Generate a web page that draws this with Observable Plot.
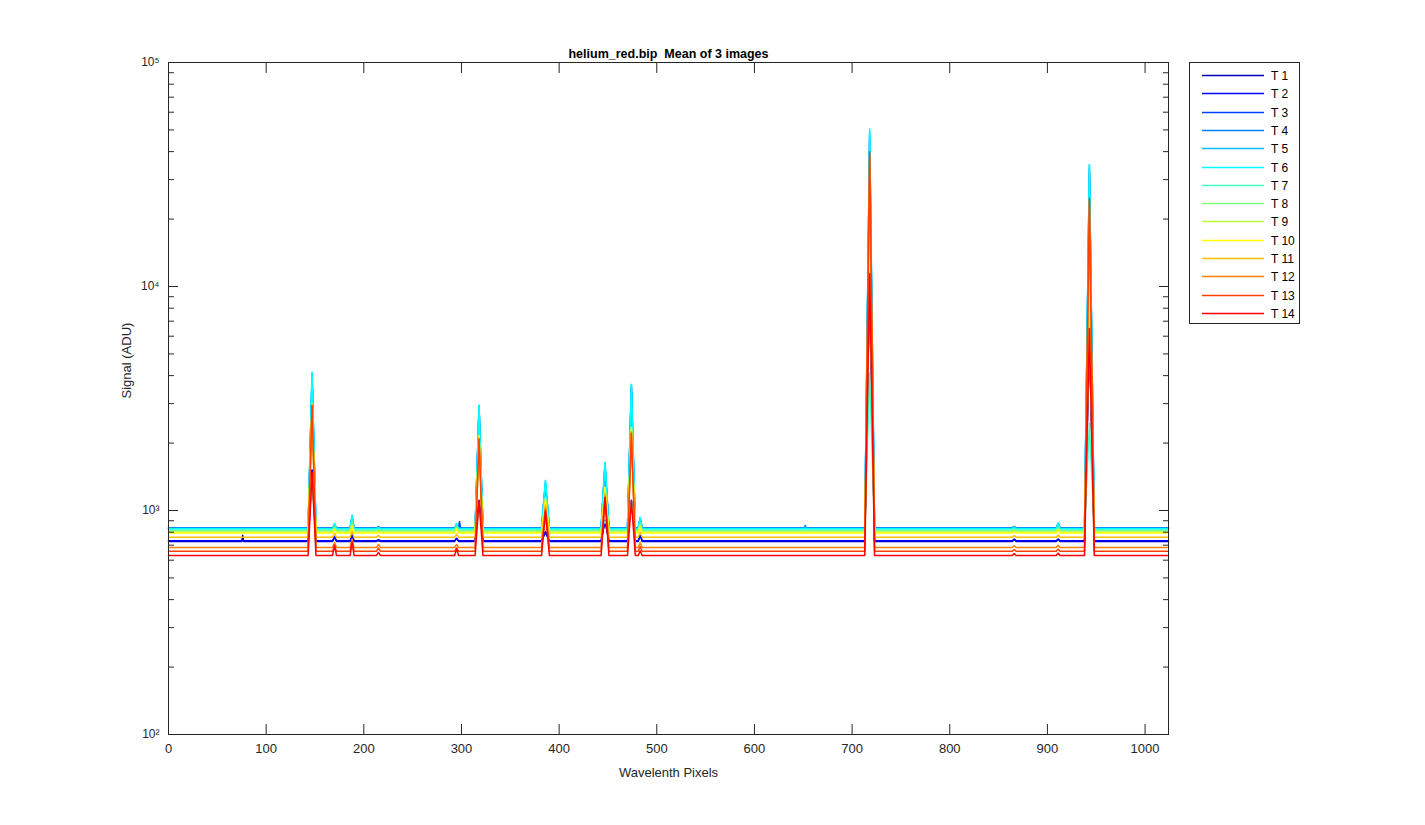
<!DOCTYPE html>
<html>
<head>
<meta charset="utf-8">
<script src="https://cdn.jsdelivr.net/npm/d3@7"></script>
<script src="https://cdn.jsdelivr.net/npm/@observablehq/plot@0.6"></script>
<style>
  html, body { margin: 0; padding: 0; background: #fff; }
  #wrap { position: relative; width: 1425px; height: 825px; overflow: hidden; background: #fff;
          font-family: "Liberation Sans", Arial, Helvetica, sans-serif; color: #262626; }
  #chart { position: absolute; left: 0; top: 0; }
  #legend { position: absolute; left: 1189px; top: 62px; width: 111px; height: 262px;
            border: 1px solid #262626; background: #fff; box-sizing: border-box; }
  .row { position: absolute; left: 0; height: 14px; width: 110px; }
  .row svg { position: absolute; left: 11px; top: 0; }
  .row span { position: absolute; left: 81px; top: 0; font-size: 12px; line-height: 14px; color: #000; }
</style>
</head>
<body>
<div id="wrap"><div id="chart"></div><div id="legend"></div></div>
<script>
// ---- series ----
const seriesNames = ["T 1","T 2","T 3","T 4","T 5","T 6","T 7","T 8","T 9","T 10","T 11","T 12","T 13","T 14"];
const seriesColors = ["#0000bf","#0000ff","#0040ff","#0080ff","#00bfff","#00ffff","#40ffbf",
                      "#80ff80","#bfff40","#ffff00","#ffbf00","#ff8000","#ff4000","#ff0000"];
// baseline signal level (ADU) of each series, T1..T14
const baseline = [728, 733, 836, 836, 832, 829, 818, 811, 800, 793, 760, 684, 658, 630];

// emission line positions (pixel) and half width of each line (pixels)
const peakPixel = [76, 147, 170, 188, 215, 295, 298, 318, 386, 447, 474, 483, 652, 718, 866, 911, 943];
const peakHalfWidth = [1, 4, 2, 2, 2, 2, 1, 4, 4, 4, 4, 2, 1, 5, 2, 2, 5];

// peak signal (ADU) of each series, T1..T14, per line
const p76  = [775, 733, 836, 836, 832, 829, 818, 811, 800, 793, 760, 684, 658, 630];
const p147 = [1500, 1520, 3900, 4000, 4100, 4150, 1300, 2500, 2900, 3000, 2950, 2950, 2950, 1480];
const p170 = [760, 765, 860, 865, 870, 875, 850, 840, 828, 822, 790, 720, 695, 700];
const p188 = [775, 780, 930, 940, 950, 950, 900, 880, 860, 850, 810, 745, 730, 720];
const p215 = [735, 740, 845, 845, 840, 838, 825, 818, 808, 800, 775, 705, 680, 650];
const p295 = [750, 752, 860, 865, 870, 875, 850, 840, 830, 825, 785, 705, 680, 677];
const p298 = [728, 733, 893, 836, 832, 829, 818, 811, 800, 793, 760, 684, 658, 630];
const p318 = [1100, 1110, 2850, 2900, 2950, 2950, 1000, 1800, 2150, 2160, 2100, 2100, 2080, 1108];
const p386 = [800, 805, 1300, 1330, 1360, 1360, 880, 1000, 1120, 1130, 1060, 1030, 1010, 990];
const p447 = [900, 905, 1580, 1600, 1640, 1640, 900, 1100, 1260, 1270, 1200, 1160, 1150, 1140];
const p474 = [1100, 1110, 3500, 3600, 3650, 3650, 1100, 2000, 2340, 2350, 2250, 2230, 2200, 1108];
const p483 = [780, 785, 920, 925, 930, 930, 880, 870, 850, 840, 800, 720, 690, 660];
const p652 = [728, 733, 845, 857, 840, 835, 818, 811, 800, 793, 760, 684, 658, 630];
const p718 = [11000, 11000, 45000, 48000, 49500, 50500, 4100, 12000, 14000, 18000, 30000, 38000, 40000, 11400];
const p866 = [740, 745, 848, 848, 845, 842, 830, 822, 812, 805, 772, 696, 670, 642];
const p911 = [742, 746, 870, 875, 880, 880, 845, 835, 822, 815, 778, 700, 672, 645];
const p943 = [6000, 6000, 32000, 34000, 35000, 35000, 2450, 6000, 8000, 10000, 18000, 24000, 24700, 6500];
const peakValues = [p76, p147, p170, p188, p215, p295, p298, p318, p386, p447, p474, p483, p652, p718, p866, p911, p943];

// ---- axes ----
const xDomain = [0, 1024];
const yDomain = [100, 100000];
const xTicks = [0, 100, 200, 300, 400, 500, 600, 700, 800, 900, 1000];
const yMajor = [100, 1000, 10000, 100000];
const yTickLabels = ["10\u00b2", "10\u00b3", "10\u2074", "10\u2075"];
const yMinor = [200,300,400,500,600,700,800,900,2000,3000,4000,5000,6000,7000,8000,9000,
                20000,30000,40000,50000,60000,70000,80000,90000];
const titleText = "helium_red.bip\u00a0 Mean of 3 images";
const xLabel = "Wavelenth Pixels";
const yLabel = "Signal (ADU)";

// ---- build table of points ----
const rows = [];
seriesNames.forEach((name, s) => {
  const b = baseline[s];
  rows.push({series: name, x: xDomain[0], y: b});
  peakPixel.forEach((px, k) => {
    const hw = peakHalfWidth[k];
    rows.push({series: name, x: px - hw, y: b});
    rows.push({series: name, x: px, y: peakValues[k][s]});
    rows.push({series: name, x: px + hw, y: b});
  });
  rows.push({series: name, x: xDomain[1], y: b});
});

const ink = "#262626";
const chart = Plot.plot({
  width: 1425,
  height: 825,
  marginLeft: 168,
  marginRight: 257,
  marginTop: 62,
  marginBottom: 91,
  style: {fontFamily: "'Liberation Sans', Arial, Helvetica, sans-serif", fontSize: "13px", color: ink, background: "white", overflow: "visible"},
  x: {domain: xDomain},
  y: {type: "log", domain: yDomain},
  color: {type: "ordinal", domain: seriesNames, range: seriesColors},
  marks: [
    Plot.line(rows, {x: "x", y: "y", z: "series", stroke: "series", strokeWidth: 1.5, curve: "linear"}),
    Plot.frame({stroke: ink, strokeWidth: 1}),
    Plot.axisX({anchor: "bottom", ticks: xTicks, tickSize: -10, tickFormat: d => String(d), label: null, fontSize: 13}),
    Plot.axisX({anchor: "top", ticks: xTicks, tickSize: -10, tickFormat: () => "", label: null}),
    Plot.axisY({anchor: "left", ticks: yMajor, tickSize: -10, tickFormat: (d, i) => yTickLabels[yMajor.indexOf(d)], label: null, fontSize: 12}),
    Plot.axisY({anchor: "left", ticks: yMinor, tickSize: -6, tickFormat: () => "", label: null}),
    Plot.axisY({anchor: "right", ticks: yMajor, tickSize: -10, tickFormat: () => "", label: null}),
    Plot.axisY({anchor: "right", ticks: yMinor, tickSize: -6, tickFormat: () => "", label: null}),
    Plot.text([titleText], {frameAnchor: "top", dy: -5, lineAnchor: "bottom", fontWeight: "bold", fontSize: 12.5, fill: "#000"}),
    Plot.text([xLabel], {frameAnchor: "bottom", dy: 38, lineAnchor: "middle", fontSize: 13}),
    Plot.text([yLabel], {frameAnchor: "left", dx: -42, rotate: -90, lineAnchor: "middle", fontSize: 13})
  ]
});
document.getElementById("chart").appendChild(chart);

// ---- legend ----
const legend = document.getElementById("legend");
seriesNames.forEach((name, i) => {
  const row = document.createElement("div");
  row.className = "row";
  row.style.top = (6 + i * 18.3) + "px";
  row.innerHTML = `<svg width="64" height="14"><line x1="1" x2="63" y1="6.5" y2="6.5" stroke="${seriesColors[i]}" stroke-width="1.6"/></svg><span>${name}</span>`;
  legend.appendChild(row);
});
</script>
</body>
</html>
